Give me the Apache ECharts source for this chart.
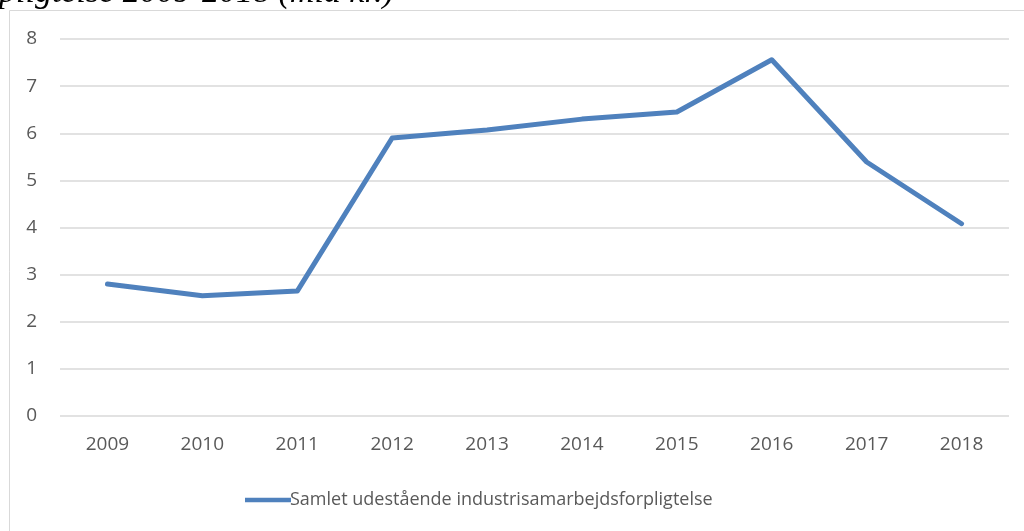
<!DOCTYPE html>
<html><head><meta charset="utf-8">
<script src="https://cdn.jsdelivr.net/npm/echarts@6/dist/echarts.min.js"></script>
<style>html,body{margin:0;padding:0;background:#fff}#c{width:1024px;height:531px}</style>
</head><body><div id="c"></div>
<script>
const years = ['2009','2010','2011','2012','2013','2014','2015','2016','2017','2018'];
const values = [2.80, 2.55, 2.65, 5.90, 6.07, 6.30, 6.45, 7.56, 5.39, 4.08];
const seriesName = 'Samlet udestående industrisamarbejdsforpligtelse';
const titleText = 'pligtelse 2009-2018 (mia kr.)';

const chart = echarts.init(document.getElementById('c'), null, {renderer: 'canvas'});
chart.setOption({
  animation: false,
  backgroundColor: '#fff',
  graphic: [
    {type: 'rect', shape: {x: 9.5, y: 10.5, width: 1030, height: 540}, style: {fill: 'none', stroke: '#d9d9d9', lineWidth: 1}, z: -1},
    {type: 'text', left: -1, top: -24, style: {text: titleText, font: 'italic 34px "Liberation Serif", serif', fill: '#000'}}
  ],
  grid: {left: 60, right: 15, top: 39, bottom: 115, containLabel: false},
  xAxis: {
    type: 'category', data: years, boundaryGap: true,
    axisLine: {show: false}, axisTick: {show: false},
    axisLabel: {color: '#595959', fontSize: 19, fontFamily: '"Open Sans", sans-serif', margin: 19}
  },
  yAxis: {
    type: 'value', min: 0, max: 8, interval: 1,
    axisLine: {show: false}, axisTick: {show: false},
    axisLabel: {color: '#595959', fontSize: 19, fontFamily: '"Open Sans", sans-serif', margin: 23},
    splitLine: {lineStyle: {color: '#d9d9d9', width: 1.5}}
  },
  legend: {
    bottom: 17, left: 240, icon: 'path://M0,0 L10,0 L10,1 L0,1 Z',
    itemWidth: 46, itemHeight: 5, itemGap: 10,
    textStyle: {color: '#595959', fontSize: 18, fontFamily: '"Open Sans", sans-serif', padding: [0,0,0,-6]},
    data: [seriesName]
  },
  series: [{
    name: seriesName, type: 'line', data: values,
    symbol: 'none', lineStyle: {color: '#4f81bd', width: 5, cap: 'round', join: 'round'},
    itemStyle: {color: '#4f81bd'}
  }]
});
</script></body></html>
